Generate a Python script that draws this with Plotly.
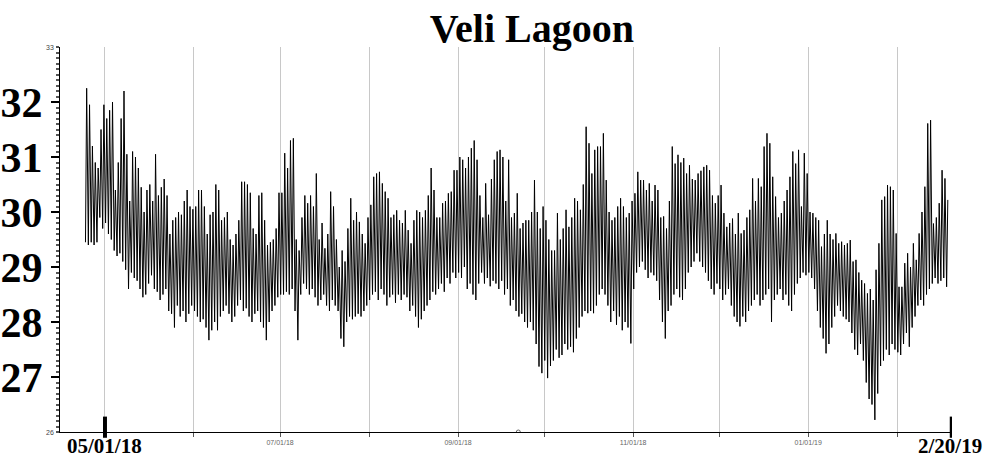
import pandas as pd
import plotly.graph_objects as go

# ---- daily high / low values (one pair per day) ----
month_starts = ["2018-04-24", "2018-05-01", "2018-06-01", "2018-07-01", "2018-08-01",
                "2018-09-01", "2018-10-01", "2018-11-01", "2018-12-01", "2019-01-01", "2019-02-01"]

high_apr = [32.25, 31.95, 31.2, 30.9, 30.8, 31.5, 31.95]
low_apr = [29.45, 29.4, 29.45, 29.4, 29.45, 29.9, 29.7]

high_may = [31.7, 31.85, 32.0, 30.4, 30.9, 31.7, 32.2, 31.05, 30.2, 31.1, 31.0, 30.8, 30.45, 30.0, 30.4,
            30.5, 30.2, 31.05, 30.3, 30.45, 30.6, 30.3, 29.6, 29.85, 29.9, 30.0, 29.95, 30.2, 30.4, 30.1, 30.05]
low_may = [29.8, 29.6, 29.5, 29.3, 29.2, 29.25, 29.1, 28.95, 28.6, 28.9, 28.8, 28.75, 28.6, 28.45, 28.5,
           28.7, 28.85, 28.6, 28.55, 28.4, 28.5, 28.6, 28.2, 28.15, 27.9, 28.3, 28.1, 28.2, 28.0, 28.15, 28.3]

high_jun = [30.1, 30.4, 30.4, 30.1, 29.6, 29.95, 30.0, 30.5, 30.4, 29.85, 29.9, 30.0, 29.5, 29.4, 29.6,
            29.85, 30.55, 30.55, 30.5, 30.35, 29.7, 29.6, 30.3, 30.35, 29.85, 29.4, 29.45, 29.5, 29.7, 30.35]
low_jun = [28.2, 28.1, 28.0, 28.05, 27.9, 27.67, 27.85, 28.0, 27.85, 28.1, 28.2, 28.3, 28.15, 28.0, 28.1,
           28.3, 28.4, 28.2, 28.25, 28.1, 28.0, 28.15, 28.2, 28.0, 27.9, 27.67, 28.0, 28.2, 28.3, 28.45]

high_jul = [30.35, 31.07, 30.8, 31.3, 31.34, 29.5, 29.3, 29.9, 30.3, 30.16, 30.3, 30.1, 30.7, 29.5, 29.8,
            29.34, 29.6, 30.37, 30.1, 29.5, 29.0, 29.3, 29.1, 29.7, 30.25, 29.85, 30.0, 29.82, 29.6, 29.43, 29.9]
low_jul = [28.5, 28.5, 28.55, 28.5, 28.6, 28.2, 27.67, 28.5, 28.7, 28.6, 28.5, 28.6, 28.45, 28.3, 28.4,
           28.5, 28.3, 28.2, 28.4, 28.3, 28.2, 27.7, 27.55, 28.0, 28.1, 28.05, 28.1, 28.15, 28.1, 28.2, 28.3]

high_aug = [30.13, 30.64, 30.7, 30.73, 30.52, 30.37, 30.25, 29.9, 29.95, 30.03, 29.85, 29.8, 30.03, 29.67, 29.43,
            29.85, 30.03, 30.0, 29.9, 30.03, 30.3, 30.8, 30.4, 29.9, 29.9, 30.16, 30.2, 30.34, 30.37, 30.76, 30.76]
low_aug = [28.4, 28.5, 28.55, 28.4, 28.6, 28.5, 28.3, 28.45, 28.5, 28.35, 28.5, 28.4, 28.5, 28.45, 28.2,
           28.3, 28.1, 27.9, 28.05, 28.2, 28.3, 28.4, 28.55, 28.5, 28.6, 28.7, 28.55, 28.8, 28.7, 28.9, 28.8]

high_sep = [31.0, 30.95, 30.8, 31.0, 31.16, 31.3, 30.95, 30.3, 29.9, 30.52, 29.95, 30.6, 30.95, 31.1, 31.13,
            31.0, 30.2, 30.95, 29.9, 29.98, 30.34, 29.7, 29.8, 29.85, 29.85, 30.0, 30.58, 30.0, 29.7, 30.1]
low_sep = [28.9, 28.8, 29.0, 28.6, 28.7, 28.5, 28.4, 28.7, 28.9, 28.7, 28.8, 28.65, 28.75, 28.7, 28.6,
           28.75, 28.5, 28.6, 28.3, 28.4, 28.2, 28.1, 28.15, 28.0, 27.9, 28.0, 27.85, 27.6, 27.19, 27.07]

high_oct = [29.85, 29.5, 29.3, 29.3, 29.98, 29.5, 29.7, 30.04, 29.73, 29.9, 30.25, 30.2, 30.04, 30.5, 31.55,
            31.25, 30.7, 31.13, 31.19, 31.19, 31.43, 30.58, 30.0, 29.85, 29.9, 30.1, 30.25, 30.1, 29.9, 29.98, 30.2]
low_oct = [27.3, 26.98, 27.2, 27.3, 27.5, 27.35, 27.4, 27.6, 27.5, 27.55, 27.45, 27.7, 27.9, 28.1, 28.2,
           28.16, 28.2, 28.16, 28.3, 28.5, 28.6, 28.5, 28.3, 28.0, 28.2, 27.95, 28.1, 27.85, 28.0, 27.9, 27.61]

high_nov = [30.34, 30.73, 30.58, 30.58, 30.4, 30.52, 30.2, 30.49, 30.4, 29.9, 29.92, 29.7, 30.2, 31.19, 30.88,
            31.04, 30.9, 30.98, 30.7, 30.85, 30.6, 30.58, 30.7, 30.75, 30.82, 30.85, 30.76, 30.3, 30.16, 30.3]
low_nov = [28.6, 28.9, 29.0, 29.1, 28.95, 28.8, 28.9, 28.85, 28.75, 28.4, 28.0, 27.7, 28.2, 28.3, 28.5,
           28.6, 28.45, 28.4, 28.6, 28.9, 29.0, 29.1, 29.25, 29.1, 29.0, 28.9, 28.75, 28.6, 28.5, 28.7]

high_dec = [30.49, 29.98, 29.73, 29.8, 29.88, 29.6, 29.98, 29.61, 29.67, 29.9, 30.04, 30.61, 30.2, 30.61, 30.46,
            31.19, 31.43, 31.25, 30.64, 30.28, 29.9, 29.98, 30.2, 30.4, 30.64, 31.1, 30.88, 31.13, 30.1, 31.07, 30.7]
low_dec = [28.6, 28.4, 28.5, 28.6, 28.3, 28.1, 28.0, 27.92, 28.1, 28.0, 28.2, 28.3, 28.4, 28.5, 28.3,
           28.4, 28.5, 28.6, 28.0, 28.4, 28.5, 28.6, 28.4, 28.5, 28.3, 28.2, 28.5, 28.7, 28.8, 28.9, 28.85]

high_jan = [30.0, 29.98, 29.9, 29.85, 29.37, 29.6, 29.85, 29.6, 29.5, 29.61, 29.43, 29.46, 29.4, 29.43, 29.49,
            29.1, 29.13, 28.9, 28.76, 28.7, 28.52, 28.6, 28.4, 28.95, 29.43, 30.22, 30.28, 30.49, 30.46, 30.4, 29.61]
low_jan = [28.9, 28.8, 28.6, 28.2, 27.9, 27.7, 27.43, 27.6, 27.9, 28.1, 28.3, 28.2, 28.1, 28.05, 28.0,
           27.8, 27.5, 27.4, 27.6, 27.3, 26.9, 26.6, 26.5, 26.22, 26.7, 27.2, 27.3, 27.5, 27.4, 27.6, 27.5]

high_feb = [28.64, 28.64, 29.07, 29.25, 29.0, 29.43, 29.13, 29.61, 30.0, 30.46, 31.61, 31.67, 29.79, 29.9, 30.16,
            30.76, 30.61, 30.22]
low_feb = [27.45, 27.4, 27.6, 27.8, 27.55, 27.9, 28.1, 28.3, 28.4, 28.3, 28.5, 28.6, 28.7, 28.8, 28.7,
           28.75, 28.8, 28.64]

highs = [high_apr, high_may, high_jun, high_jul, high_aug, high_sep,
         high_oct, high_nov, high_dec, high_jan, high_feb]
lows = [low_apr, low_may, low_jun, low_jul, low_aug, low_sep,
        low_oct, low_nov, low_dec, low_jan, low_feb]

# Axis labels
grid_months = ["2018-05-01", "2018-06-01", "2018-07-01", "2018-08-01", "2018-09-01",
               "2018-10-01", "2018-11-01", "2018-12-01", "2019-01-01", "2019-02-01"]
grid_text = ["", "", "07/01/18", "", "09/01/18", "", "11/01/18", "", "01/01/19", ""]
big_x_dates = ["2018-05-01", "2019-02-20"]
big_x_text = ["05/01/18", "2/20/19"]
big_x_shift = [0, -2]
y_major = [27, 28, 29, 30, 31, 32]
y_small = [26, 33]
title_text = "Veli Lagoon"

# ---- build the zig-zag series (low in morning, high in afternoon) ----
xs, ys = [], []
for start, hi, lo in zip(month_starts, highs, lows):
    days = pd.date_range(start, periods=len(hi), freq="D")
    for d, h, l in zip(days, hi, lo):
        xs.append(d + pd.Timedelta(hours=5))
        ys.append(l)
        xs.append(d + pd.Timedelta(hours=15))
        ys.append(h)

SERIF = "Liberation Serif, Times New Roman, serif"

fig = go.Figure()
fig.add_trace(go.Scatter(x=xs, y=ys, mode="lines",
                         line=dict(color="black", width=1), hoverinfo="skip"))

annotations = []
for d, t, s in zip(big_x_dates, big_x_text, big_x_shift):
    annotations.append(dict(x=d, xref="x", y=0, yref="paper", yanchor="top", yshift=0, xshift=s,
                            text="<b>%s</b>" % t, showarrow=False,
                            font=dict(family=SERIF, size=21, color="black")))
for v in y_small:
    annotations.append(dict(x=0, xref="paper", xanchor="right", xshift=-4, y=v, yref="y",
                            text=str(v), showarrow=False,
                            font=dict(family="Liberation Sans, Arial", size=7, color="#444")))

shapes = []
for d in big_x_dates:
    shapes.append(dict(type="line", xref="x", yref="paper", x0=d, x1=d, y0=-0.015, y1=0.04,
                       line=dict(color="black", width=4)))
shapes.append(dict(type="circle", xref="x", yref="y", xsizemode="pixel", ysizemode="pixel",
                   xanchor="2018-09-22", yanchor=26, x0=-2, x1=2, y0=-2, y1=2,
                   line=dict(color="#666", width=1)))

fig.update_layout(
    width=985, height=457,
    margin=dict(l=60, r=33, t=47, b=25),
    paper_bgcolor="white", plot_bgcolor="white",
    showlegend=False,
    title=dict(text="<b>%s</b>" % title_text, x=0.54, xanchor="center", y=0.97, yanchor="top",
               font=dict(family=SERIF, size=40, color="black")),
    annotations=annotations,
    shapes=shapes,
    xaxis=dict(
        type="date",
        range=["2018-04-15 08:00", "2019-02-20 02:00"],
        tickmode="array", tickvals=grid_months, ticktext=grid_text,
        tickfont=dict(family="Liberation Sans, Arial", size=7, color="#666"),
        ticks="outside", ticklen=4, tickcolor="#555",
        showgrid=True, gridcolor="#c8c8c8", gridwidth=1,
        showline=True, linecolor="black", linewidth=1,
        zeroline=False, automargin=False,
    ),
    yaxis=dict(
        range=[26, 33],
        tickmode="array", tickvals=y_major, ticktext=["<b>%d</b>" % v for v in y_major],
        tickfont=dict(family=SERIF, size=42, color="black"),
        ticks="outside", ticklen=8, tickwidth=2, tickcolor="black",
        minor=dict(dtick=0.1, ticks="outside", ticklen=3, tickcolor="#555", showgrid=False),
        showgrid=False, showline=True, linecolor="black", linewidth=1,
        zeroline=False, automargin=False,
    ),
)

fig.write_html("out.html")
